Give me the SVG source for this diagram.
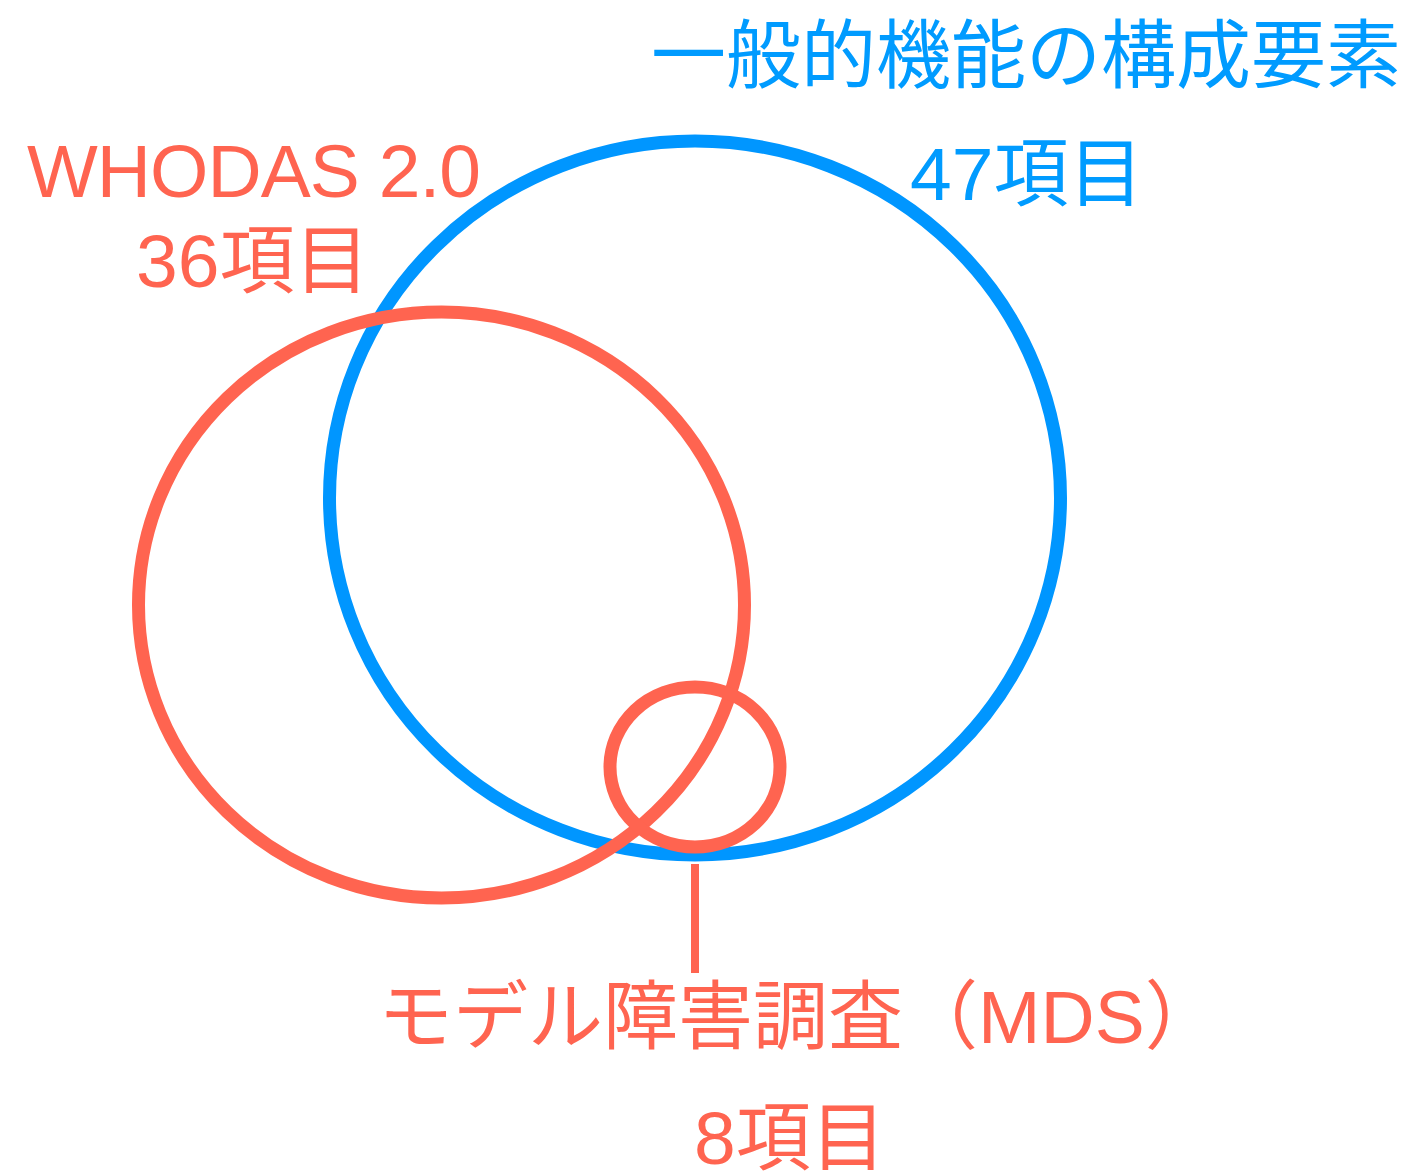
<svg xmlns="http://www.w3.org/2000/svg" width="1404" height="1173" viewBox="0 0 1404 1173">
  <style>
    .blue { fill: none; stroke: #0096FF; stroke-width: 13; }
    .red { fill: none; stroke: #FF6450; stroke-width: 13; }
    .t { font-family: "Liberation Sans", "Noto Sans CJK JP", sans-serif; font-size: 75px; }
    .tb { fill: #009BFF; }
    .tr { fill: #FF6450; }
  </style>
  <rect width="1404" height="1173" fill="#FFFFFF"/>
  <g id="general-functioning">
    <ellipse class="blue" cx="695" cy="498" rx="365.5" ry="357"/>
    <text class="t tb" x="651" y="82">一般的機能の構成要素</text>
    <text class="t tb" x="910" y="200">47項目</text>
  </g>
  <g id="whodas">
    <ellipse class="red" cx="441.5" cy="605" rx="303" ry="293"/>
    <text class="t tr" x="27" y="197" textLength="454" lengthAdjust="spacing">WHODAS 2.0</text>
    <text class="t tr" x="136" y="287">36項目</text>
  </g>
  <g id="mds">
    <ellipse class="red" cx="695" cy="767" rx="85" ry="80"/>
    <text class="t tr" x="378" y="1043">モデル障害調査（MDS）</text>
    <text class="t tr" x="694" y="1164">8項目</text>
  </g>
  <g id="connectors">
    <line x1="695" y1="864" x2="695" y2="973" stroke="#FF6450" stroke-width="8"/>
  </g>
</svg>
